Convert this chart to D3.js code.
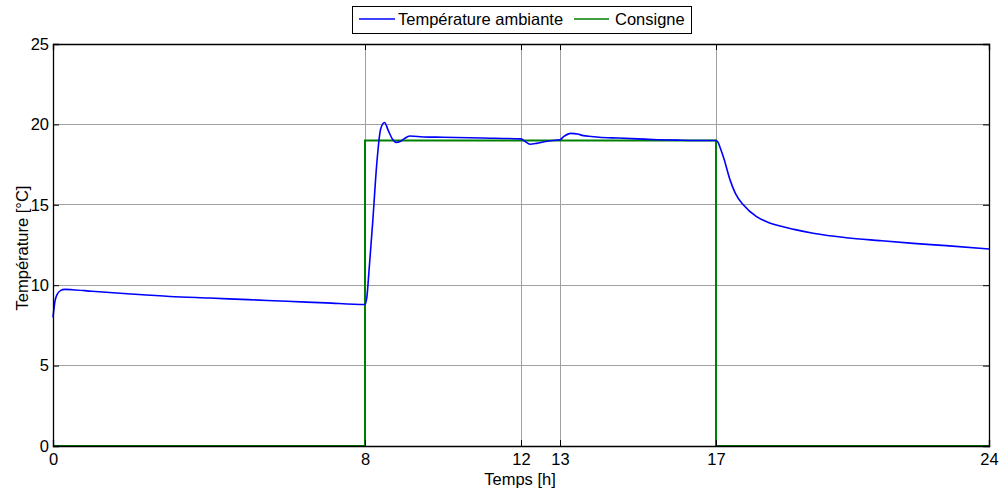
<!DOCTYPE html>
<html><head><meta charset="utf-8">
<script src="https://cdn.jsdelivr.net/npm/d3@7"></script>
<style>body{margin:0;background:#fff}svg{display:block;font-family:"Liberation Sans",Arial,sans-serif}</style>
</head><body><svg id="c" width="1000" height="488"></svg>
<script>
const xTicks=[0,8,12,13,17,24];
const yTicks=[0,5,10,15,20,25];
const tempTime=[0,0.05,0.1,0.2,0.3,0.5,1,2,3,4,5,6,7,8,8.05,8.1,8.2,8.3,8.4,8.5,8.6,8.7,8.8,8.9,9.0,9.15,9.5,10,11,12,12.1,12.23,12.4,12.6,12.8,13,13.1,13.28,13.45,13.6,13.8,14,14.5,15,15.5,16,16.5,17,17.05,17.1,17.2,17.36,17.5,17.7,18.04,18.3,18.64,19,19.49,20.35,21.2,22.06,22.9,24];
const tempVal=[8.0,9.0,9.4,9.68,9.74,9.72,9.62,9.45,9.3,9.2,9.1,9.0,8.9,8.8,9.3,10.8,14.0,17.5,19.7,20.12,19.6,19.1,18.88,18.93,19.1,19.28,19.22,19.2,19.15,19.1,18.95,18.77,18.82,18.92,19.0,19.05,19.25,19.44,19.4,19.3,19.25,19.2,19.15,19.1,19.05,19.02,19.0,19.0,18.9,18.6,17.9,16.55,15.7,15.0,14.26,13.95,13.68,13.47,13.23,12.95,12.77,12.6,12.46,12.25];
const consTime=[0,8,8,17,17,24];
const consVal=[0,0,19,19,0,0];

const FS=16.5;
const svg=d3.select("#c");
const L=53,R=989,T=44,B=446;
const x=d3.scaleLinear().domain([0,24]).range([L,R]);
const y=d3.scaleLinear().domain([0,25]).range([B,T]);

// grid
svg.append("g").selectAll("line").data(yTicks.slice(1,-1)).join("line")
 .attr("x1",L).attr("x2",R).attr("y1",d=>y(d)).attr("y2",d=>y(d))
 .attr("stroke","#a0a0a0").attr("stroke-width",1).attr("shape-rendering","crispEdges");
svg.append("g").selectAll("line").data(xTicks.slice(1,-1)).join("line")
 .attr("y1",T).attr("y2",B).attr("x1",d=>x(d)).attr("x2",d=>x(d))
 .attr("stroke","#a0a0a0").attr("stroke-width",1).attr("shape-rendering","crispEdges");

// lines
const line=d3.line().x(d=>x(d[0])).y(d=>y(d[1]));
svg.append("path").datum(consTime.map((t,i)=>[t,consVal[i]]))
 .attr("d",line).attr("fill","none").attr("stroke","#008000").attr("stroke-width",2);
svg.append("path").datum(tempTime.map((t,i)=>[t,tempVal[i]]))
 .attr("d",line.curve(d3.curveMonotoneX)).attr("fill","none").attr("stroke","#0000ff").attr("stroke-width",1.6);

// axes
const tl=6;
const gb=svg.append("g").attr("transform",`translate(0,${B})`).call(d3.axisBottom(x).tickValues(xTicks).tickSize(-tl).tickPadding(7).tickFormat(d3.format("d")));
const gt=svg.append("g").attr("transform",`translate(0,${T})`).call(d3.axisTop(x).tickValues(xTicks).tickSize(-tl).tickFormat(""));
const gl=svg.append("g").attr("transform",`translate(${L},0)`).call(d3.axisLeft(y).tickValues(yTicks).tickSize(-tl).tickPadding(4).tickFormat(d3.format("d")));
const gr=svg.append("g").attr("transform",`translate(${R},0)`).call(d3.axisRight(y).tickValues(yTicks).tickSize(-tl).tickFormat(""));
[gb,gt,gl,gr].forEach(g=>{g.select(".domain").attr("stroke","#000").attr("stroke-width",1.3);
 g.selectAll(".tick line").attr("stroke","#000");
 g.selectAll("text").attr("font-size",FS).attr("fill","#000").attr("font-family","Liberation Sans, Arial, sans-serif");});

svg.append("text").attr("x",520).attr("y",485).attr("text-anchor","middle").attr("font-size",FS).text("Temps [h]");
svg.append("text").attr("transform","translate(28,248) rotate(-90)").attr("text-anchor","middle").attr("font-size",FS).text("Température [°C]");

// legend
const lg=svg.append("g");
lg.append("rect").attr("x",352.5).attr("y",6.5).attr("width",339).attr("height",27).attr("fill","#fff").attr("stroke","#000");
lg.append("line").attr("x1",359).attr("x2",395).attr("y1",19).attr("y2",19).attr("stroke","#0000ff").attr("stroke-width",1.6);
lg.append("text").attr("x",398).attr("y",25).attr("font-size",FS).text("Température ambiante");
lg.append("line").attr("x1",574).attr("x2",609).attr("y1",19).attr("y2",19).attr("stroke","#008000").attr("stroke-width",1.6);
lg.append("text").attr("x",615).attr("y",25).attr("font-size",FS).text("Consigne");
</script></body></html>
